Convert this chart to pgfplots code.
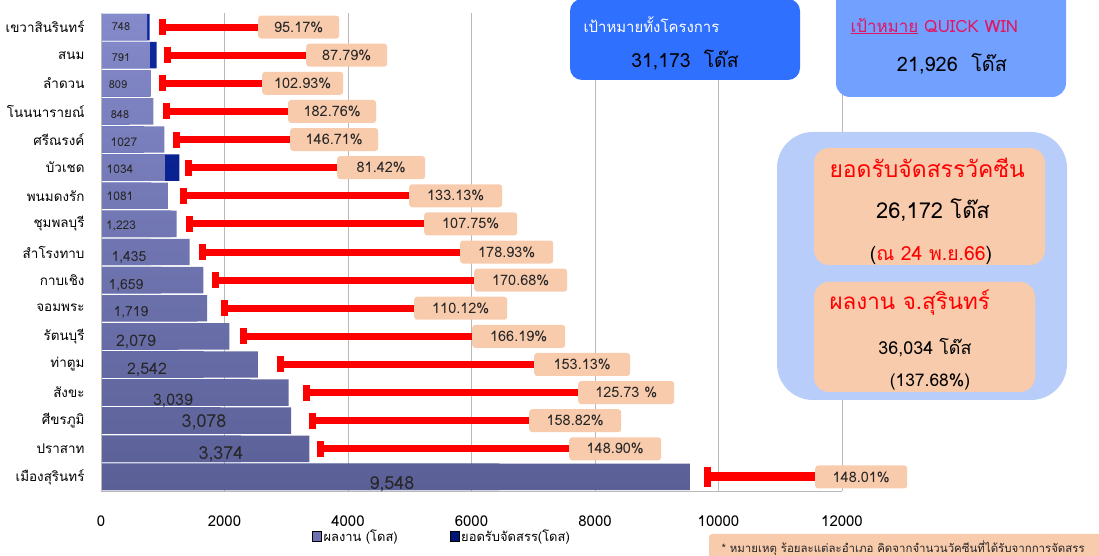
\documentclass[border=0pt]{standalone}
\usepackage{fontspec}
\setmainfont[Script=Thai]{Loma}
\usepackage{pgfplots}
\pgfplotsset{compat=1.18}
\usepackage{pgfplotstable}
\definecolor{barTop}{RGB}{132,138,202}
\definecolor{barBot}{RGB}{90,95,150}
\definecolor{barMid}{RGB}{108,114,176}
\definecolor{navyTop}{RGB}{14,40,158}
\definecolor{navyBot}{RGB}{0,22,118}
\definecolor{peach}{RGB}{248,203,173}
\definecolor{gridgray}{RGB}{185,185,185}
\definecolor{boxA}{RGB}{48,112,255}
\definecolor{boxB}{RGB}{114,160,255}
\definecolor{boxC}{RGB}{185,205,250}
\definecolor{crimson}{RGB}{228,20,96}

\pgfplotstableread{
r perf alloc lab labx laby capx endx pct
1 748 786 748 324 1.00 988 2542 95.17\%
2 791 901 791 324 2.07 1085 3320 87.79\%
3 809 786 809 275 3.04 1004 2607 102.93\%
4 848 464 848 308 4.10 1053 3028 182.76\%
5 1027 700 1027 372 5.09 1215 3061 146.71\%
6 1034 1270 1034 308 6.05 1425 3822 81.42\%
7 1081 812 1081 308 7.00 1328 4988 133.13\%
8 1223 1135 1,223 324 8.07 1441 5231 107.75\%
9 1435 802 1,435 453 9.18 1636 5814 178.93\%
10 1659 972 1,659 405 10.18 1862 6040 170.68\%
11 1719 1561 1,719 486 11.14 1992 5069 110.12\%
12 2079 1251 2,079 567 12.21 2300 6008 166.19\%
13 2542 1660 2,542 745 13.21 2899 7012 153.13\%
14 3039 2417 3,039 1166 14.28 3320 7725 125.73~\%
15 3078 1938 3,078 1668 15.04 3417 6931 158.82\%
16 3374 2266 3,374 1943 16.21 3547 7579 148.90\%
17 9548 6451 9,548 4712 17.28 9814 11563 148.01\%
}\data

\pgfplotsset{
  barlab/.style={draw=none, mark=none, forget plot, point meta=explicit symbolic,
    nodes near coords,
    nodes near coords style={anchor=center, inner sep=0pt, text=black!85, font=\fontsize{#1}{#1}\selectfont}},
  pctbox/.style={draw=none, mark=none, forget plot, point meta=explicit symbolic,
    nodes near coords,
    nodes near coords style={anchor=west, fill=peach, rounded corners=3bp, inner sep=0pt,
      minimum width=#1bp, minimum height=23bp, text=black!85, font=\fontsize{14.5}{16}\selectfont}},
}

\begin{document}
\begin{tikzpicture}
\path[use as bounding box] (0,0) rectangle (1099bp,556bp);
\begin{axis}[
  at={(101bp,65bp)}, anchor=south west,
  scale only axis, width=741bp, height=478bp,
  xmin=0, xmax=12000, ymin=0.5, ymax=17.5, y dir=reverse,
  xtick={0,2000,...,12000}, ytick={1,...,17},
  yticklabels={เขวาสินรินทร์,สนม,ลำดวน,โนนนารายณ์,ศรีณรงค์,บัวเชด,พนมดงรัก,ชุมพลบุรี,สำโรงทาบ,กาบเชิง,จอมพระ,รัตนบุรี,ท่าตูม,สังขะ,ศีขรภูมิ,ปราสาท,เมืองสุรินทร์},
  major tick length=0pt,
  scaled x ticks=false,
  /pgf/number format/assume math mode=true,
  /pgf/number format/1000 sep={},
  xticklabel style={font=\fontsize{15}{17}\selectfont, yshift=-21bp},
  yticklabel style={font=\fontsize{13.5}{16}\selectfont, xshift=-13bp},
  xmajorgrids, grid style={gridgray, line width=0.9bp},
  axis line style={draw=none},
  clip=false,
  legend style={at={(0.2807,-0.094)}, anchor=west, draw=none, fill=none,
    legend columns=2, font=\fontsize{13}{15}\selectfont,
    /tikz/every even column/.append style={column sep=50bp}},
  legend cell align=left,
  legend image code/.code={\fill[#1] (0bp,-5bp) rectangle (9bp,5bp);},
]
\addlegendimage{fill=barMid}
\addlegendentry{ผลงาน (โดส)}
\addlegendimage{fill=navyBot}
\addlegendentry{ยอดรับจัดสรร(โดส)}

% allocation (behind)
\addplot[xbar, bar width=0.94, draw=none, top color=navyTop, bottom color=navyBot, forget plot]
  table[x=alloc, y=r] {\data};
% performance
\addplot[xbar, bar width=0.94, draw=none, top color=barTop, bottom color=barBot, forget plot]
  table[x=perf, y=r] {\data};

% bar value labels (grouped by font size)
\addplot[barlab=11, skip coords between index={4}{17}] table[x=labx, y=laby, meta=lab] {\data};
\addplot[barlab=12, skip coords between index={0}{4}, skip coords between index={8}{17}] table[x=labx, y=laby, meta=lab] {\data};
\addplot[barlab=14, skip coords between index={0}{8}, skip coords between index={11}{17}] table[x=labx, y=laby, meta=lab] {\data};
\addplot[barlab=16, skip coords between index={0}{11}, skip coords between index={14}{17}] table[x=labx, y=laby, meta=lab] {\data};
\addplot[barlab=18, skip coords between index={0}{14}] table[x=labx, y=laby, meta=lab] {\data};

% red connector lines
\addplot[red, line width=7bp, forget plot, unbounded coords=jump] coordinates {
(988,1) (2542,1) (nan,1)
(1085,2) (3320,2) (nan,2)
(1004,3) (2607,3) (nan,3)
(1053,4) (3028,4) (nan,4)
(1215,5) (3061,5) (nan,5)
(1425,6) (3822,6) (nan,6)
(1328,7) (4988,7) (nan,7)
(1441,8) (5231,8) (nan,8)
(1636,9) (5814,9) (nan,9)
(1862,10) (6040,10) (nan,10)
(1992,11) (5069,11) (nan,11)
(2300,12) (6008,12) (nan,12)
(2899,13) (7012,13) (nan,13)
(3320,14) (7725,14) (nan,14)
(3417,15) (6931,15) (nan,15)
(3547,16) (7579,16)
};
\addplot[red, line width=9bp, forget plot] coordinates {(9814,17) (11563,17)};
% caps
\addplot[only marks, mark=|, mark size=8bp, mark options={red, line width=7bp}, forget plot, skip coords between index={16}{17}]
  table[x=capx, y=r] {\data};
\addplot[only marks, mark=|, mark size=10bp, mark options={red, line width=7bp}, forget plot, skip coords between index={0}{16}]
  table[x=capx, y=r] {\data};

% percentage boxes (grouped by box width)
\addplot[pctbox=81, skip coords between index={3}{17}] table[x=endx, y=r, meta=pct] {\data};
\addplot[pctbox=88, skip coords between index={0}{3}, skip coords between index={6}{17}] table[x=endx, y=r, meta=pct] {\data};
\addplot[pctbox=93, skip coords between index={0}{6}, skip coords between index={12}{17}] table[x=endx, y=r, meta=pct] {\data};
\addplot[pctbox=96, skip coords between index={0}{12}, skip coords between index={14}{17}] table[x=endx, y=r, meta=pct] {\data};
\addplot[pctbox=92, skip coords between index={0}{14}] table[x=endx, y=r, meta=pct] {\data};

\draw[gridgray, line width=0.9bp] (axis description cs:0,0) -- (axis description cs:1,0);
\draw[gridgray, line width=0.9bp] (axis description cs:0,0) -- (axis description cs:0,1);
\end{axis}

% ---- right-side annotation boxes ----
\fill[boxA, rounded corners=12bp] (570bp,476bp) rectangle (800bp,557bp);
\node[anchor=west, text=white, font=\fontsize{15}{17}\selectfont] at (580bp,531bp) {เป้าหมายทั้งโครงการ};
\node[anchor=center, text=black, font=\fontsize{19.5}{22}\selectfont] at (685bp,496bp) {31,173\ \ โด๊ส};

\fill[boxB, rounded corners=14bp] (836bp,459bp) rectangle (1066bp,570bp);
\node[anchor=west, text=crimson, font=\fontsize{17}{19}\selectfont] at (847bp,530bp) {\underline{เป้าหมาย} QUICK WIN};
\node[anchor=center, text=black, font=\fontsize{20}{22}\selectfont] at (952bp,492bp) {21,926\ \ โด๊ส};

\fill[boxC, rounded corners=36bp] (777bp,156bp) rectangle (1067bp,424bp);
\fill[peach, rounded corners=15bp] (814bp,291bp) rectangle (1045bp,408bp);
\fill[peach, rounded corners=15bp] (814bp,164bp) rectangle (1035bp,274bp);
\node[anchor=west, text=red, font=\fontsize{23}{25}\selectfont] at (826bp,388bp) {ยอดรับจัดสรรวัคซีน};
\node[anchor=center, text=black, font=\fontsize{22}{24}\selectfont] at (933bp,346bp) {26,172 โด๊ส};
\node[anchor=center, text=black, font=\fontsize{19.5}{21}\selectfont] at (931bp,301bp) {(\textcolor{red}{ณ 24 พ.ย.66})};
\node[anchor=west, text=red, font=\fontsize{22.5}{24}\selectfont] at (826bp,253bp) {ผลงาน จ.สุรินทร์};
\node[anchor=center, text=black, font=\fontsize{18}{20}\selectfont] at (925bp,208bp) {36,034 โด๊ส};
\node[anchor=center, text=black, font=\fontsize{17.5}{19}\selectfont] at (930bp,174bp) {(137.68\%)};

\fill[peach, rounded corners=3bp] (709bp,-10bp) rectangle (1110bp,22bp);
\node[anchor=west, text=black!85, font=\fontsize{11.5}{13}\selectfont] at (718bp,8bp) {* หมายเหตุ ร้อยละแต่ละอำเภอ คิดจากจำนวนวัคซีนที่ได้รับจากการจัดสรร};
\end{tikzpicture}
\end{document}
